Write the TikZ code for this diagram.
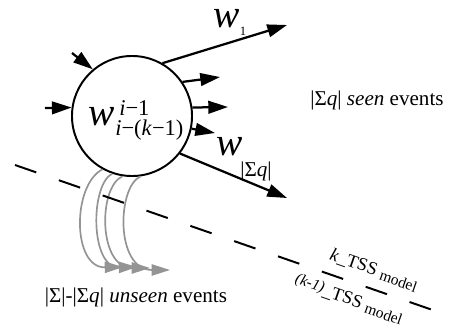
\documentclass[tikz,border=0pt]{standalone}
\usepackage{fontspec}
\setmainfont{Liberation Serif}
\usetikzlibrary{arrows.meta}
\tikzset{
  flow/.style={line width=1.6pt,-{Triangle[length=14pt,width=9pt]}},
  unseen/.style={draw=black!42,line width=1.2pt,-{Triangle[length=13pt,width=8pt]},fill=none},
  border/.style={line width=1.4pt,dash pattern=on 16pt off 17pt},
  lbl/.style={inner sep=0pt},
}
\begin{document}
\begin{tikzpicture}[x=0.025cm,y=-0.025cm]
\useasboundingbox (0,0) rectangle (449,331);
\node[circle,draw,line width=1.4pt,minimum size=3cm,inner sep=0pt] (ctx) at (132,116) {};
\node[lbl,font=\fontsize{28}{28}\selectfont] (wc) at (102,117) {\textit{w}};
\node[lbl,font=\fontsize{16}{16}\selectfont,anchor=west] (wsup) at (119,108) {\textit{i}−1};
\node[lbl,font=\fontsize{16}{16}\selectfont,anchor=west] (wsub) at (115,130) {\textit{i}−(\textit{k}−1)};

% incoming
\coordinate (inA) at (72,53);
\coordinate (inB) at (45,108);
\draw[flow] (inA) -- (ctx.130);
\draw[flow] (inB) -- (ctx.172);

% outgoing
\coordinate (outA) at (287,25);
\coordinate (outB) at (220,77);
\coordinate (outC) at (228,107);
\coordinate (outD) at (215,133);
\coordinate (outE) at (287,198);
\draw[flow] (ctx.60) -- (outA);
\draw[flow] (ctx.34) -- (outB);
\draw[flow] (ctx.8) -- (outC);
\draw[flow] (ctx.-12) -- (outD);
\draw[flow] (ctx.-38) -- (outE);

\node[lbl,font=\fontsize{28}{28}\selectfont] (w1) at (227,19) {\textit{w}};
\node[lbl,font=\fontsize{9}{9}\selectfont] (w1sub) at (243,31) {1};
\node[lbl,font=\fontsize{28}{28}\selectfont] (wq) at (230,147) {\textit{w}};
\node[lbl,font=\fontsize{15}{15}\selectfont] (wqsub) at (256,171) {|Σ\textit{q}|};

\node[lbl,font=\fontsize{15}{15}\selectfont] (seen) at (377,100) {|Σ\textit{q}| \textit{seen} events};
\node[lbl,font=\fontsize{15}{15}\selectfont] (unseen) at (136,297) {|Σ|-|Σ\textit{q}| \textit{unseen} events};

% unseen events
\coordinate (tipA) at (123,267);
\coordinate (tipB) at (137,267);
\coordinate (tipC) at (150,268);
\coordinate (tipD) at (170,270);
\draw[unseen] (ctx.241) .. controls (72,185) and (72,268) .. (tipA);
\draw[unseen] (ctx.251) .. controls (90,185) and (90,268) .. (tipB);
\draw[unseen] (ctx.261) .. controls (98,187) and (98,268) .. (tipC);
\draw[unseen] (ctx.278) .. controls (117,187) and (115,270) .. (tipD);

% model border
\coordinate (bd0) at (15,165);
\coordinate (bd1) at (447,315);
\draw[border] (bd0) -- (bd1);
\node[lbl,font=\fontsize{13}{13}\selectfont,rotate=-19.2] (kmod) at (374,270) {\textit{k}\_TSS \raisebox{-2pt}{\fontsize{11}{11}\selectfont model}};
\node[lbl,font=\fontsize{13}{13}\selectfont,rotate=-19.2] (k1mod) at (349,299) {\raisebox{2pt}{\fontsize{11}{11}\selectfont\textit{(k-1)}}\_TSS \raisebox{-2pt}{\fontsize{11}{11}\selectfont model}};
\end{tikzpicture}
\end{document}
